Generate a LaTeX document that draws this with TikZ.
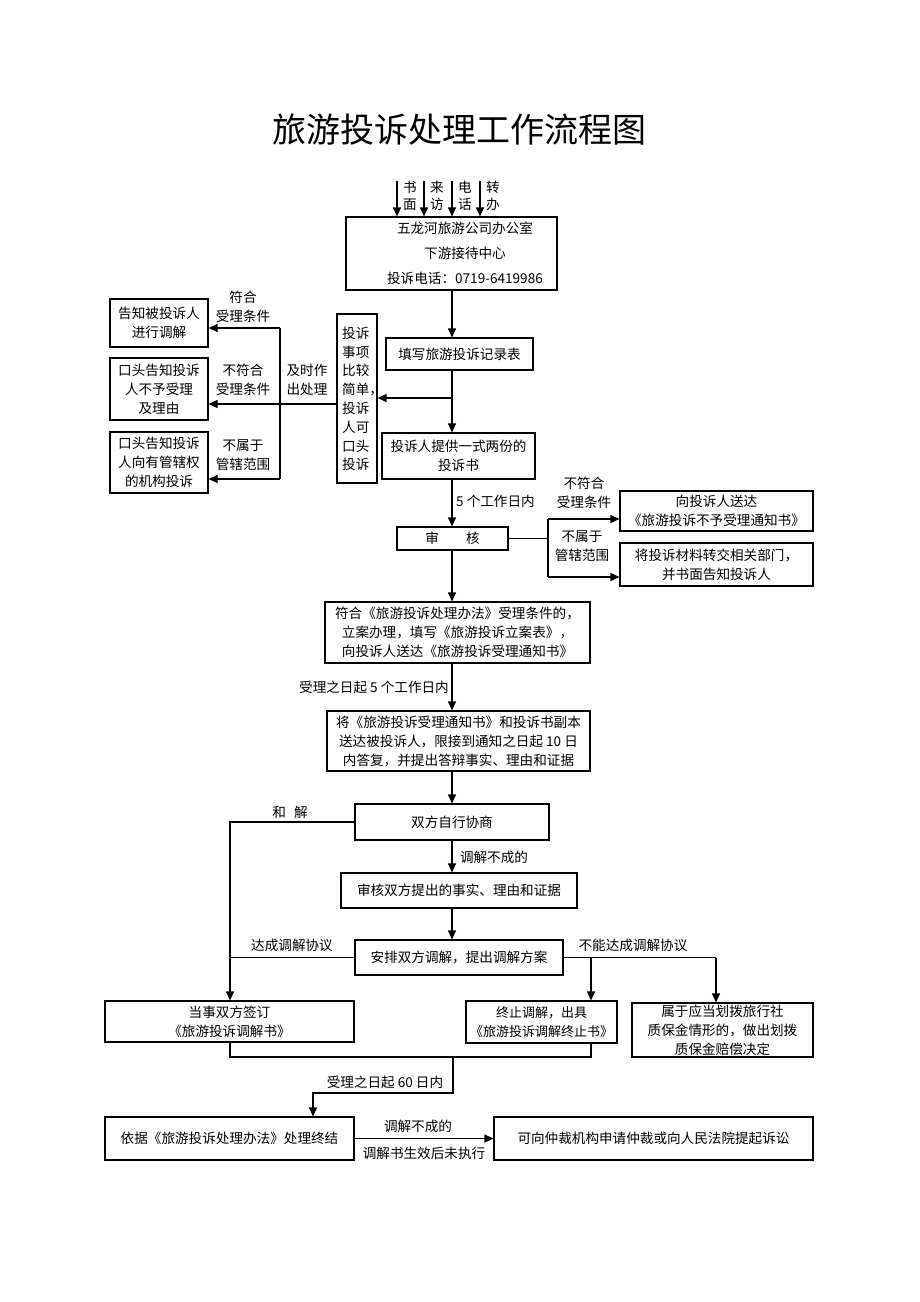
\documentclass[tikz,border=0pt]{standalone}
\usepackage{fontspec}
\setmainfont{Noto Sans CJK SC}
\usetikzlibrary{arrows.meta,calc}
\tikzset{
  box/.style={draw, line width=1.2pt, inner sep=0pt},
  ln/.style={line width=1.2pt},
  arr/.style={line width=1.2pt, -{Triangle[length=9pt,width=8pt]}},
  txt/.style={font=\fontsize{13.6}{19}\selectfont, align=center, inner sep=0pt},
}
\begin{document}
\begin{tikzpicture}[x=1pt,y=-1pt]
\fill[white] (0,0) rectangle (920,1302);
\useasboundingbox (0,0) rectangle (920,1302);

\node[txt, font=\fontsize{34}{34}\selectfont] (title) at (459,130) {旅游投诉处理工作流程图};

% boxes
\node[box, minimum width=211pt, minimum height=73pt] (b1) at (451.5,253.5) {};
\node[txt, font=\fontsize{13.6}{25}\selectfont] (b1t) at (465,253) {五龙河旅游公司办公室\\下游接待中心\\投诉电话：0719-6419986};
\node[box, txt, minimum width=147pt, minimum height=32pt] (b2) at (459.5,354) {填写旅游投诉记录表};
\node[box, txt, minimum width=153pt, minimum height=46pt] (b3) at (458.5,456) {投诉人提供一式两份的\\投诉书};
\node[box, minimum width=40pt, minimum height=169pt] (nar) at (357,398.5) {};
\node[txt, align=left, anchor=west, font=\fontsize{13.6}{18.8}\selectfont] (nart) at (342,399) {投诉\\事项\\比较\\简单，\\投诉\\人可\\口头\\投诉};
\node[box, txt, minimum width=98pt, minimum height=48pt] (L1) at (159,323) {告知被投诉人\\进行调解};
\node[box, txt, minimum width=98pt, minimum height=62pt] (L2) at (159,389) {口头告知投诉\\人不予受理\\及理由};
\node[box, txt, minimum width=98pt, minimum height=61pt] (L3) at (159,462.5) {口头告知投诉\\人向有管辖权\\的机构投诉};
\node[box, txt, minimum width=111pt, minimum height=23pt] (sh) at (452.5,538.5) {审\hspace{2em}核};
\node[box, txt, minimum width=193pt, minimum height=40pt] (R1) at (716.5,511) {向投诉人送达\\《旅游投诉不予受理通知书》};
\node[box, txt, minimum width=193pt, minimum height=43pt] (R2) at (716.5,564.5) {将投诉材料转交相关部门，\\并书面告知投诉人};
\node[box, txt, minimum width=265pt, minimum height=61pt] (b4) at (457.5,632.5) {符合《旅游投诉处理办法》受理条件的，\\立案办理，填写《旅游投诉立案表》，\\向投诉人送达《旅游投诉受理通知书》};
\node[box, txt, minimum width=263pt, minimum height=60pt] (b5) at (458.5,741) {将《旅游投诉受理通知书》和投诉书副本\\送达被投诉人，限接到通知之日起 10 日\\内答复，并提出答辩事实、理由和证据};
\node[box, txt, minimum width=194pt, minimum height=36pt] (b6) at (452,822) {双方自行协商};
\node[box, txt, minimum width=236pt, minimum height=35pt] (b7) at (459,890.5) {审核双方提出的事实、理由和证据};
\node[box, txt, minimum width=208pt, minimum height=35pt] (b8) at (459,957.5) {安排双方调解，提出调解方案};
\node[box, txt, minimum width=249pt, minimum height=41pt] (b9L) at (229.5,1021.5) {当事双方签订\\《旅游投诉调解书》};
\node[box, txt, font=\fontsize{13}{19}\selectfont, minimum width=151pt, minimum height=42pt] (b9M) at (541.5,1022) {终止调解，出具\\《旅游投诉调解终止书》};
\node[box, txt, minimum width=181pt, minimum height=54pt] (b9R) at (722.5,1030) {属于应当划拨旅行社\\质保金情形的，做出划拨\\质保金赔偿决定};
\node[box, txt, minimum width=249pt, minimum height=43pt] (b10) at (229.5,1138.5) {依据《旅游投诉处理办法》处理终结};
\node[box, txt, minimum width=319pt, minimum height=43pt] (b11) at (653.5,1138.5) {可向仲裁机构申请仲裁或向人民法院提起诉讼};

% input arrows
\coordinate (i1) at (397,181);
\coordinate (i2) at (424,181);
\coordinate (i3) at (452,181);
\coordinate (i4) at (480,181);
\draw[arr] (i1) -- (i1 |- b1.north);
\draw[arr] (i2) -- (i2 |- b1.north);
\draw[arr] (i3) -- (i3 |- b1.north);
\draw[arr] (i4) -- (i4 |- b1.north);
\node[txt, font=\fontsize{13.6}{17}\selectfont] (t1) at (410,196) {书\\面};
\node[txt, font=\fontsize{13.6}{17}\selectfont] (t2) at (437,196) {来\\访};
\node[txt, font=\fontsize{13.6}{17}\selectfont] (t3) at (465,196) {电\\话};
\node[txt, font=\fontsize{13.6}{17}\selectfont] (t4) at (493,196) {转\\办};

% main column
\coordinate (mx) at (452,0);
\draw[arr] (b1.south -| mx) -- (b2.north -| mx);
\draw[arr] (b2.south -| mx) -- (b3.north -| mx);
\coordinate (br1) at (452,398);
\draw[arr] (br1) -- (br1 -| nar.east);

% left branch
\coordinate (jb) at (280,404);
\coordinate (jt) at (280,328);
\coordinate (jl) at (280,479);
\draw[arr] (nar.west |- jb) -- (L2.east |- jb);
\draw[ln] (jt) -- (jl);
\draw[arr] (jt) -- (L1.east |- jt);
\draw[arr] (jl) -- (L3.east |- jl);
\node[txt] (lab1) at (243,307) {符合\\受理条件};
\node[txt] (lab2) at (243,380) {不符合\\受理条件};
\node[txt] (lab3) at (243,455) {不属于\\管辖范围};
\node[txt] (lab4) at (307,380) {及时作\\出处理};

% shenhe
\draw[arr] (b3.south -| mx) -- (sh.north -| mx);
\node[txt, anchor=west] (lab5) at (456,501) {5 个工作日内};
\coordinate (rj1) at (548,519);
\coordinate (rj2) at (548,577);
\draw[ln] (sh.east) -- (sh.east -| rj1);
\draw[ln] (rj1) -- (rj2);
\draw[arr] (rj1) -- (rj1 -| R1.west);
\draw[arr] (rj2) -- (rj2 -| R2.west);
\node[txt] (lab6) at (584,493) {不符合\\受理条件};
\node[txt] (lab7) at (582,546) {不属于\\管辖范围};

\draw[arr] (sh.south -| mx) -- (b4.north -| mx);
\draw[arr] (b4.south -| mx) -- (b5.north -| mx);
\node[txt, anchor=east] (lab8) at (449,687) {受理之日起 5 个工作日内};
\draw[arr] (b5.south -| mx) -- (b6.north -| mx);
\draw[arr] (b6.south -| mx) -- (b7.north -| mx);
\node[txt] (lab9) at (494,857) {调解不成的};
\draw[arr] (b7.south -| mx) -- (b8.north -| mx);

% left line
\coordinate (lc) at (230,0);
\draw[arr] (b6.west) -- (b6.west -| lc) -- (b9L.north -| lc);
\draw[ln] (b8.west) -- (b8.west -| lc);
\node[txt] (lab10) at (290,812) {和\hspace{0.6em}解};
\node[txt] (lab11) at (292,945) {达成调解协议};

% right line
\coordinate (rc) at (716,0);
\coordinate (mc) at (591,0);
\draw[ln] (b8.east) -- (b8.east -| rc);
\draw[arr] (b8.east -| mc) -- (b9M.north -| mc);
\draw[arr] (b8.east -| rc) -- (b9R.north -| rc);
\node[txt] (lab12) at (633,945) {不能达成调解协议};

% bottom join
\coordinate (bj) at (0,1057);
\coordinate (dj) at (453,1057);
\coordinate (dk) at (453,1093);
\coordinate (dl) at (313,1093);
\draw[ln] (b9L.south -| lc) -- (bj -| lc) -- (bj -| mc) -- (b9M.south -| mc);
\draw[arr] (dj) -- (dk) -- (dl) -- (dl |- b10.north);
\node[txt] (lab13) at (385,1082) {受理之日起 60 日内};

\draw[arr] (b10.east) -- (b11.west);
\node[txt] (lab14) at (418,1126) {调解不成的};
\node[txt] (lab15) at (424,1153) {调解书生效后未执行};
\end{tikzpicture}
\end{document}
